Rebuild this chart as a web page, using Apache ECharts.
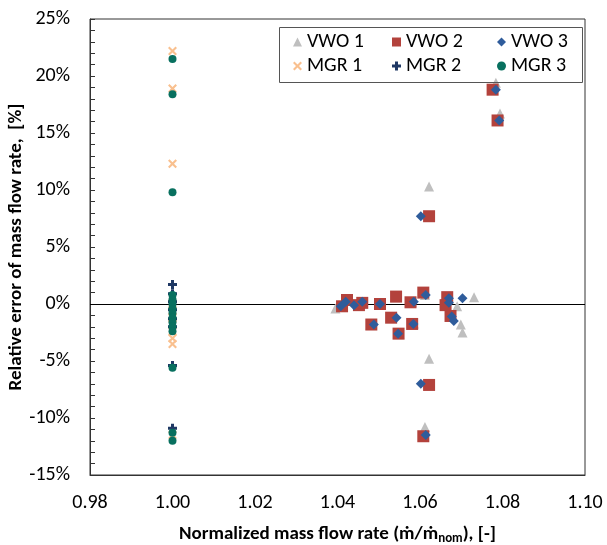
<!DOCTYPE html>
<html>
<head>
<meta charset="utf-8">
<script src="https://cdn.jsdelivr.net/npm/echarts@6/dist/echarts.min.js"></script>
<style>html,body{margin:0;padding:0;background:#fff;}#c{width:607px;height:545px;}</style>
</head>
<body>
<div id="c"></div>
<script>
const seriesNames = ['VWO 1','VWO 2','VWO 3','MGR 1','MGR 2','MGR 3'];
const xTicks = [0.98, 1.00, 1.02, 1.04, 1.06, 1.08, 1.10];
const yTicks = [-15, -10, -5, 0, 5, 10, 15, 20, 25];

const vwo1 = [[1.0395,-0.4],[1.0420,0.3],[1.0455,0.1],[1.0500,0.0],[1.0480,-1.8],[1.0540,0.6],[1.0530,-1.2],[1.0550,-2.6],[1.0580,0.2],[1.0585,-1.7],[1.0612,0.8],[1.0622,10.3],[1.0622,-4.8],[1.0612,-10.8],[1.0666,0.6],[1.0690,-0.2],[1.0699,-1.8],[1.0703,-2.5],[1.0731,0.6],[1.0784,19.4],[1.0794,16.7]];
const vwo2 = [[1.0411,-0.2],[1.0423,0.35],[1.0452,-0.1],[1.0460,0.1],[1.0503,0.0],[1.0482,-1.8],[1.0542,0.65],[1.0530,-1.2],[1.0548,-2.6],[1.0577,0.15],[1.0581,-1.75],[1.0608,1.0],[1.0622,7.7],[1.0622,-7.1],[1.0608,-11.6],[1.0666,0.6],[1.0662,-0.1],[1.0674,-1.05],[1.0776,18.8],[1.0788,16.1]];
const vwo3 = [[1.0408,-0.2],[1.0420,0.2],[1.0440,-0.1],[1.0460,0.2],[1.0503,0.0],[1.0488,-1.8],[1.0543,-1.2],[1.0547,-2.6],[1.0585,0.2],[1.0584,-1.75],[1.0614,0.8],[1.0602,7.7],[1.0602,-7.0],[1.0614,-11.5],[1.0670,0.5],[1.0670,0.1],[1.0677,-1.1],[1.0682,-1.5],[1.0703,0.5],[1.0784,18.8],[1.0792,16.1]];
const mgr1 = [[1.0,22.2],[1.0,18.9],[1.0,12.3],[1.0,0.6],[1.0,0.0],[1.0,-0.6],[1.0,-1.2],[1.0,-1.8],[1.0,-2.4],[1.0,-3.0],[1.0,-3.5],[1.0,-11.5]];
const mgr2 = [[1.0,1.7],[1.0,0.9],[1.0,0.2],[1.0,-0.5],[1.0,-1.3],[1.0,-2.0],[1.0,-5.4],[1.0,-10.9]];
const mgr3 = [[1.0,21.5],[1.0,18.4],[1.0,9.8],[1.0,0.8],[1.0,0.4],[1.0,0.0],[1.0,-0.4],[1.0,-0.8],[1.0,-1.2],[1.0,-1.6],[1.0,-2.0],[1.0,-2.4],[1.0,-5.6],[1.0,-11.3],[1.0,-12.0]];

const FONT = 'Carlito, Lato, "Open Sans", sans-serif';
const PLUS = 'path://M2,0H4V2H6V4H4V6H2V4H0V2H2Z';
const CROSS = 'path://M0,1L1,0L3,2L5,0L6,1L4,3L6,5L5,6L3,4L1,6L0,5L2,3Z';
const colors = ['#bfbfbf','#b3423c','#2f5c9b','#f9c08f','#1f3864','#08705f'];
const symbols = ['triangle','rect','diamond',CROSS,PLUS,'circle'];
const sizes = [10,12,10,9,9,8];
const datas = [vwo1,vwo2,vwo3,mgr1,mgr2,mgr3];

const series = seriesNames.map((n,i)=>({
  name:n, type:'scatter', data:datas[i], symbol:symbols[i], symbolSize:sizes[i],
  itemStyle:{color:colors[i], opacity:1}, z:2+i
}));
series[0].markLine = {silent:true, symbol:['none','none'], label:{show:false}, lineStyle:{color:'#000',type:'solid',width:1}, data:[{yAxis:0}], z:1};

function legendCol(items, left){
  return {
    orient:'vertical', left:left, top:27, itemGap:4, itemWidth:9, itemHeight:9,
    data: items.map(i=>({name:seriesNames[i], icon:symbols[i], itemStyle:{color:colors[i]}})),
    textStyle:{fontFamily:FONT, fontSize:20, color:'#000', padding:[0,0,0,0]},
    selectedMode:false
  };
}

const chart = echarts.init(document.getElementById('c'), null, {renderer:'canvas'});
chart.setOption({
  animation:false,
  textStyle:{fontFamily:FONT},
  grid:{left:90, top:19, right:22, bottom:70, outerBoundsMode:'none', containLabel:false, show:true, borderColor:'#333', borderWidth:1, backgroundColor:'transparent'},
  xAxis:{
    type:'value', min:xTicks[0], max:xTicks[xTicks.length-1], interval:0.02,
    axisLine:{show:true, onZero:false, lineStyle:{color:'#333'}},
    axisTick:{show:false}, splitLine:{show:false},
    axisLabel:{fontFamily:FONT, fontSize:20, color:'#000', margin:18, formatter:v=>v.toFixed(2)},
    name:'{a|Normalized mass flow rate (ṁ/ṁ}{s|nom}{a|), [-]}', nameLocation:'middle', nameGap:48,
    nameTextStyle:{rich:{a:{fontFamily:FONT, fontSize:19, fontWeight:'bold', color:'#000'}, s:{fontFamily:FONT, fontSize:13, fontWeight:'bold', color:'#000', padding:[9,0,0,0]}}}
  },
  yAxis:{
    type:'value', min:yTicks[0], max:yTicks[yTicks.length-1], interval:5,
    axisLine:{show:true, lineStyle:{color:'#333'}},
    axisTick:{show:true, inside:true, length:5, lineStyle:{color:'#333'}},
    minorTick:{show:true, splitNumber:5, length:5, lineStyle:{color:'#333'}},
    splitLine:{show:false},
    axisLabel:{fontFamily:FONT, fontSize:20, color:'#000', margin:20, formatter:'{value}%'},
    name:'Relative error of mass flow rate,  [%]', nameLocation:'middle', nameGap:64, nameMoveOverlap:false,
    nameTextStyle:{fontFamily:FONT, fontSize:19, fontWeight:'bold', color:'#000'}
  },
  legend:[legendCol([0,3],288), legendCol([1,4],387), legendCol([2,5],492)],
  graphic:[{type:'rect', left:277, top:25, shape:{width:303, height:55}, style:{fill:'none', stroke:'#555', lineWidth:1}, z:10}],
  series:series
});
</script>
</body>
</html>
